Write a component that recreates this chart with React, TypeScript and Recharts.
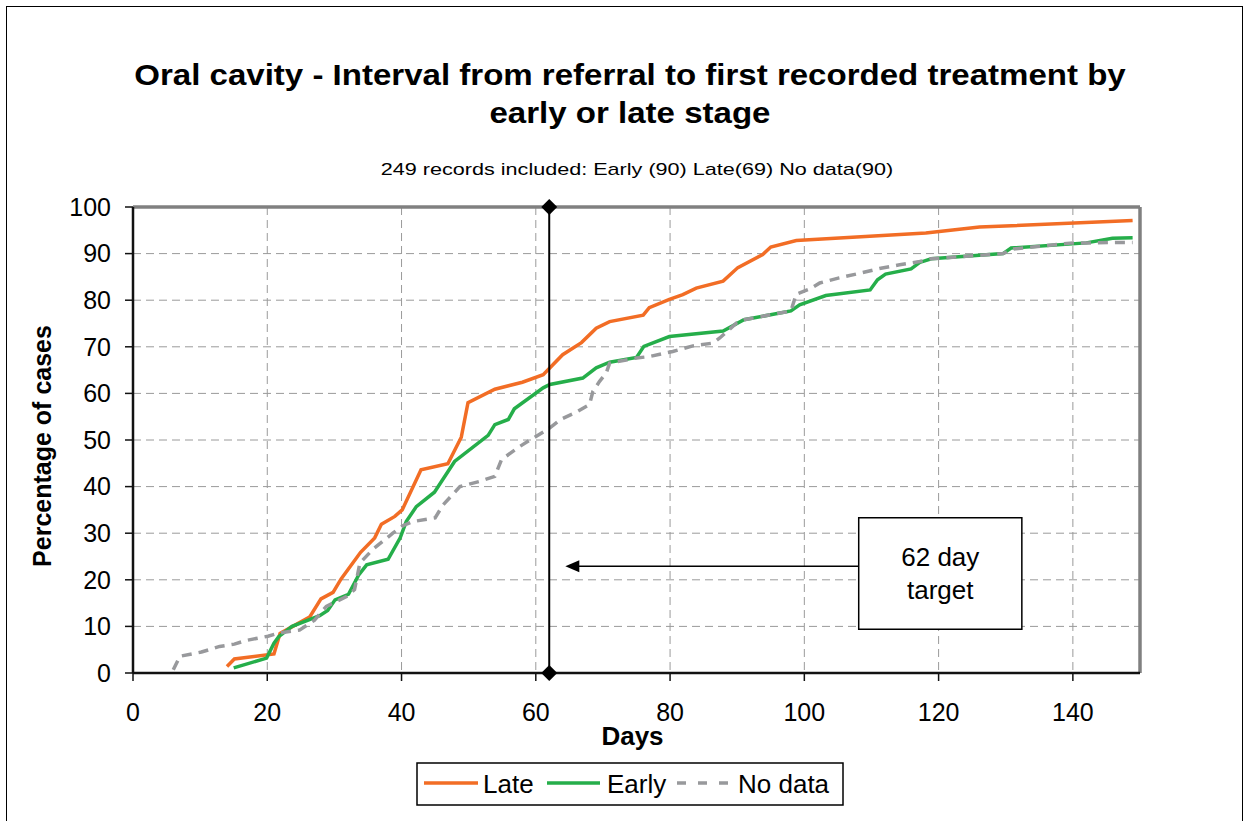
import {
  CartesianGrid,
  Label,
  Line,
  LineChart,
  ReferenceArea,
  ReferenceDot,
  ReferenceLine,
  XAxis,
  YAxis,
} from "recharts";

const X_TICKS = [0, 20, 40, 60, 80, 100, 120, 140];
const Y_TICKS = [0, 10, 20, 30, 40, 50, 60, 70, 80, 90, 100];

const LATE_DAYS = [14.0, 15.1, 21.0, 21.9, 23.8, 26.3, 28.0, 29.8, 31.0, 33.9, 36.0, 37.0, 39.0, 40.1, 42.9, 46.9, 48.9, 49.9, 53.9, 58.0, 61.1, 64.0, 66.8, 69.0, 71.0, 76.0, 76.9, 79.9, 81.9, 83.9, 87.9, 90.1, 93.8, 95.0, 98.8, 118.1, 126.1, 148.9];
const LATE_PCT = [1.4, 3.0, 4.1, 8.5, 10.0, 12.0, 15.9, 17.3, 20.2, 25.9, 29.0, 31.9, 33.6, 35.0, 43.6, 44.9, 50.6, 58.0, 60.9, 62.4, 64.0, 68.3, 70.9, 74.0, 75.4, 76.8, 78.4, 80.2, 81.2, 82.6, 84.1, 87.0, 89.8, 91.4, 92.8, 94.4, 95.7, 97.1];

const EARLY_DAYS = [15.0, 19.9, 21.0, 21.7, 23.7, 27.8, 29.0, 30.1, 32.1, 33.6, 34.8, 38.0, 39.8, 40.7, 42.2, 44.9, 47.9, 52.9, 53.9, 55.9, 56.8, 61.1, 62.1, 67.0, 69.0, 71.0, 75.0, 76.1, 79.9, 87.9, 91.0, 98.0, 99.3, 103.2, 109.8, 110.9, 112.1, 115.9, 117.2, 118.9, 129.6, 130.8, 142.0, 145.9, 148.9];
const EARLY_PCT = [1.1, 3.2, 6.4, 7.8, 10.0, 12.3, 13.4, 15.7, 16.9, 21.0, 23.2, 24.4, 29.0, 32.5, 35.7, 38.8, 45.4, 51.0, 53.3, 54.4, 56.7, 61.2, 61.9, 63.3, 65.5, 66.7, 67.7, 70.1, 72.2, 73.4, 75.8, 77.7, 79.0, 81.0, 82.2, 84.4, 85.6, 86.7, 88.1, 88.9, 90.0, 91.2, 92.3, 93.3, 93.4];

const NODATA_DAYS = [6.0, 7.0, 10.2, 12.9, 15.1, 16.9, 20.1, 21.8, 24.8, 27.0, 28.8, 31.8, 33.0, 33.8, 35.7, 38.7, 40.2, 41.7, 45.0, 46.2, 48.7, 51.6, 53.9, 54.9, 57.6, 59.6, 62.1, 63.8, 65.8, 68.0, 68.5, 69.5, 70.5, 71.0, 75.0, 76.9, 80.4, 83.4, 86.4, 87.4, 89.9, 91.0, 98.0, 98.8, 100.8, 102.3, 105.2, 108.0, 111.2, 114.2, 117.2, 118.9, 129.6, 131.2, 140.0, 143.2, 146.4, 148.9];
const NODATA_PCT = [0.7, 3.6, 4.5, 5.7, 6.2, 7.0, 7.9, 8.6, 9.2, 11.3, 14.3, 16.4, 17.9, 23.6, 26.5, 30.0, 31.6, 32.5, 33.3, 36.1, 40.0, 41.1, 42.2, 45.8, 48.6, 50.4, 52.6, 54.5, 55.8, 57.6, 60.4, 62.6, 64.4, 66.5, 67.6, 67.9, 69.0, 70.2, 70.8, 71.9, 75.1, 75.8, 77.7, 81.3, 82.4, 83.7, 84.8, 85.7, 86.8, 87.6, 88.3, 88.9, 90.0, 91.0, 92.3, 92.3, 92.4, 92.4];

const TARGET_DAY = 62;

const zip = (days: number[], pct: number[]) =>
  days.map((d, i) => ({ day: d, pct: pct[i] }));

const late = zip(LATE_DAYS, LATE_PCT);
const early = zip(EARLY_DAYS, EARLY_PCT);
const noData = zip(NODATA_DAYS, NODATA_PCT);

const ORANGE = "#F26D25";
const GREEN = "#25AE4A";
const GREY = "#98999C";
const FONT = '"Liberation Sans", Arial, Helvetica, sans-serif';

const diamond = (p: any) => (
  <path
    d={`M${p.cx} ${p.cy - 8} L${p.cx + 8} ${p.cy} L${p.cx} ${p.cy + 8} L${p.cx - 8} ${p.cy} Z`}
    fill="#000"
  />
);

const arrowHead = (p: any) => (
  <path
    d={`M${p.cx} ${p.cy} L${p.cx + 14} ${p.cy - 6} L${p.cx + 14} ${p.cy + 6} Z`}
    fill="#000"
  />
);

const yLabel = (p: any) => {
  const vb = p.viewBox || { x: 0, y: 207, width: 133, height: 466 };
  const cx = vb.x + 42;
  const cy = vb.y + vb.height / 2 + 6;
  return (
    <text
      x={cx}
      y={cy}
      transform={`rotate(-90 ${cx} ${cy})`}
      textAnchor="middle"
      dominantBaseline="central"
      fontSize={25}
      fontWeight="bold"
      fontFamily={FONT}
      fill="#000"
    >
      Percentage of cases
    </text>
  );
};

const xLabel = (p: any) => {
  const vb = p.viewBox || { x: 133, y: 673, width: 1007, height: 60 };
  return (
    <text
      x={vb.x + vb.width / 2 - 4}
      y={vb.y + 72}
      textAnchor="middle"
      fontSize={26}
      fontWeight="bold"
      fontFamily={FONT}
      fill="#000"
    >
      Days
    </text>
  );
};

const boxLabel = (p: any) => {
  const vb = p.viewBox;
  if (!vb) return null;
  const cx = vb.x + vb.width / 2;
  return (
    <g fontFamily={FONT} fontSize={26} fill="#000" textAnchor="middle">
      <text x={cx} y={vb.y + 48}>62 day</text>
      <text x={cx} y={vb.y + 81}>target</text>
    </g>
  );
};

export default function App() {
  return (
    <div
      style={{
        position: "relative",
        width: 1244,
        height: 821,
        overflow: "hidden",
        background: "#fff",
        fontFamily: FONT,
      }}
    >
      <style>{`body{margin:0;overflow:hidden;}`}</style>
      <div
        style={{
          position: "absolute",
          left: 6,
          top: 6,
          width: 1237,
          height: 840,
          border: "1.5px solid #000",
          boxSizing: "border-box",
        }}
      />
      <div
        style={{
          position: "absolute",
          left: 0,
          top: 56,
          width: 1260,
          textAlign: "center",
          fontSize: 29.5,
          fontWeight: "bold",
          lineHeight: "38px",
          color: "#000",
          transform: "scaleX(1.12)",
          transformOrigin: "630px 0",
        }}
      >
        Oral cavity - Interval from referral to first recorded treatment by
        <br />
        early or late stage
      </div>
      <div
        style={{
          position: "absolute",
          left: 0,
          top: 160,
          width: 1274,
          textAlign: "center",
          fontSize: 17,
          lineHeight: "20px",
          color: "#000",
          transform: "scaleX(1.27)",
          transformOrigin: "637px 0",
        }}
      >
        249 records included: Early (90) Late(69) No data(90)
      </div>

      <div style={{ position: "absolute", left: 0, top: 0 }}>
        <LineChart
          width={1244}
          height={821}
          margin={{ top: 207, right: 104, bottom: 88, left: 0 }}
        >
          <CartesianGrid stroke="#9a9a9a" strokeDasharray="8 5" strokeWidth={1} />
          <XAxis
            type="number"
            dataKey="day"
            domain={[0, 150]}
            ticks={X_TICKS}
            interval={0}
            height={60}
            allowDataOverflow
            tickSize={8}
            tickMargin={22}
            tick={{ fill: "#000", fontSize: 25, fontFamily: FONT }}
            axisLine={{ stroke: "#111", strokeWidth: 2.5 }}
            tickLine={{ stroke: "#111", strokeWidth: 1.5 }}
          >
            <Label content={xLabel} />
          </XAxis>
          <YAxis
            type="number"
            domain={[0, 100]}
            ticks={Y_TICKS}
            interval={0}
            width={133}
            tickSize={8}
            tickMargin={14}
            tick={{ fill: "#000", fontSize: 25, fontFamily: FONT }}
            axisLine={{ stroke: "#111", strokeWidth: 2.5 }}
            tickLine={{ stroke: "#111", strokeWidth: 1.5 }}
          >
            <Label content={yLabel} />
          </YAxis>

          <ReferenceLine y={100} stroke="#808080" strokeWidth={3.5} />
          <ReferenceLine x={150} stroke="#808080" strokeWidth={3.5} />

          <ReferenceArea
            x1={108.1}
            x2={132.4}
            y1={9.4}
            y2={33.3}
            fill="#fff"
            fillOpacity={1}
            stroke="#000"
            strokeWidth={1.5}
            label={boxLabel}
          />
          <ReferenceLine
            segment={[
              { x: 108.1, y: 22.9 },
              { x: 66, y: 22.9 },
            ]}
            stroke="#000"
            strokeWidth={1.5}
          />
          <ReferenceDot x={64.4} y={22.9} r={6} shape={arrowHead} ifOverflow="visible" />

          <Line
            data={late}
            dataKey="pct"
            type="linear"
            stroke={ORANGE}
            strokeWidth={3.5}
            dot={false}
            isAnimationActive={false}
          />
          <Line
            data={early}
            dataKey="pct"
            type="linear"
            stroke={GREEN}
            strokeWidth={3.5}
            dot={false}
            isAnimationActive={false}
          />
          <Line
            data={noData}
            dataKey="pct"
            type="linear"
            stroke={GREY}
            strokeWidth={3.5}
            strokeDasharray="10 7"
            dot={false}
            isAnimationActive={false}
          />

          <ReferenceLine x={TARGET_DAY} stroke="#000" strokeWidth={2} />
          <ReferenceDot x={TARGET_DAY} y={100} r={8} shape={diamond} ifOverflow="visible" />
          <ReferenceDot x={TARGET_DAY} y={0} r={8} shape={diamond} ifOverflow="visible" />
        </LineChart>
      </div>

      <svg
        width={1244}
        height={821}
        style={{ position: "absolute", left: 0, top: 0, pointerEvents: "none" }}
        fontFamily={FONT}
      >
        <rect x={417} y={763} width={426} height={42} fill="#fff" stroke="#000" strokeWidth={1.5} />
        <line x1={424} x2={478} y1={783} y2={783} stroke={ORANGE} strokeWidth={3.5} />
        <text x={483} y={793} fontSize={26} fill="#000">Late</text>
        <line x1={547} x2={600} y1={783} y2={783} stroke={GREEN} strokeWidth={3.5} />
        <text x={607} y={793} fontSize={26} fill="#000">Early</text>
        <line x1={677} x2={730} y1={783} y2={783} stroke={GREY} strokeWidth={3.5} strokeDasharray="9 12" />
        <text x={738} y={793} fontSize={26} fill="#000">No data</text>
      </svg>
    </div>
  );
}
